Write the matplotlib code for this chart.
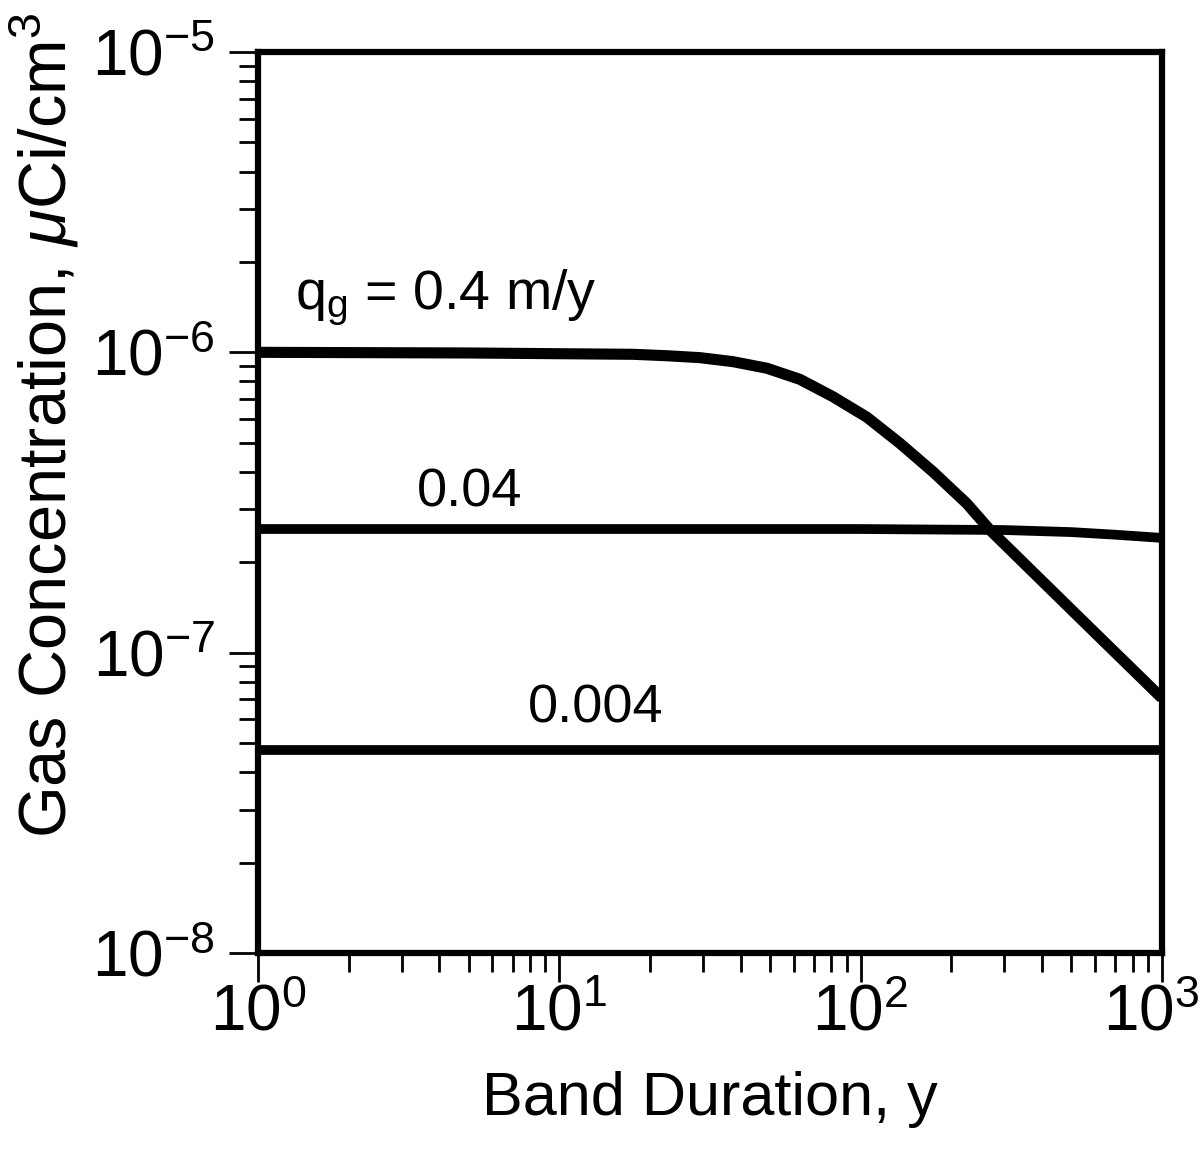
import matplotlib.pyplot as plt
from matplotlib.ticker import FuncFormatter, LogFormatterSciNotation

plt.rcParams['font.family'] = ['Liberation Sans', 'DejaVu Sans']
plt.rcParams['mathtext.fontset'] = 'custom'
plt.rcParams['mathtext.rm'] = 'Liberation Sans'
plt.rcParams['mathtext.it'] = 'Liberation Sans:italic'
plt.rcParams['mathtext.bf'] = 'Liberation Sans:bold'

# curves (band duration in years, conc. in uCi/cm3)
t_04 = [1, 5, 13.6, 17.6, 22.8, 29.3, 37.7, 48.9, 62.9, 80.9, 105, 135, 174, 225, 269, 514, 1000]
c_04 = [1.0e-6, 9.95e-7, 9.87e-7, 9.85e-7, 9.74e-7, 9.60e-7, 9.31e-7, 8.85e-7, 8.13e-7,
        7.12e-7, 6.08e-7, 4.98e-7, 4.00e-7, 3.14e-7, 2.56e-7, 1.355e-7, 7.06e-8]

t_004 = [1, 100, 300, 500, 700, 1000]
c_004 = [2.58e-7, 2.58e-7, 2.56e-7, 2.52e-7, 2.47e-7, 2.41e-7]

t_0004 = [1, 1000]
c_0004 = [4.75e-8, 4.75e-8]

labels = [r'q$_\mathregular{g}$ = 0.4 m/y', '0.04', '0.004']

fig = plt.figure(figsize=(12.02, 11.61), dpi=100)
ax = fig.add_axes([0.2146, 0.1792, 0.752, 0.776])

ax.plot(t_04, c_04, color='black', lw=8, solid_capstyle='butt', solid_joinstyle='round')
ax.plot(t_004, c_004, color='black', lw=7, solid_capstyle='butt')
ax.plot(t_0004, c_0004, color='black', lw=7, solid_capstyle='butt')

ax.set_xscale('log')
ax.set_yscale('log')
ax.set_xlim(1, 1000)
ax.set_ylim(1e-8, 1e-5)

for s in ax.spines.values():
    s.set_linewidth(4.5)

ax.tick_params(which='both', direction='out', top=False, right=False, width=2)
ax.tick_params(which='major', length=21, labelsize=46)
ax.tick_params(which='minor', length=14)
ax.tick_params(axis='x', which='major', pad=1)
ax.tick_params(axis='y', which='major', pad=10)

# the last x label is drawn by hand so it can sit against the right edge
sci = LogFormatterSciNotation()
xmax = ax.get_xlim()[1]
ax.xaxis.set_major_formatter(FuncFormatter(lambda v, p: '' if v >= xmax else sci(v, p)))
ax.annotate(sci(xmax), xy=(1, 0), xycoords='axes fraction', xytext=(27, -22),
            textcoords='offset points', ha='right', va='top', fontsize=46)

ax.set_xlabel('Band Duration, y', fontsize=44, va='baseline')
ax.xaxis.set_label_coords(0.5, -0.18)
ax.set_ylabel(r'Gas Concentration, $\mu$Ci/cm$^\mathregular{3}$', fontsize=48, va='center')
ax.yaxis.set_label_coords(-0.236, 0.586)

ax.text(0.041, 0.714, labels[0], transform=ax.transAxes, fontsize=40, va='baseline')
ax.text(0.176, 0.495, labels[1], transform=ax.transAxes, fontsize=39, va='baseline')
ax.text(0.299, 0.256, labels[2], transform=ax.transAxes, fontsize=39, va='baseline')

fig.savefig('out.png', dpi=100)
